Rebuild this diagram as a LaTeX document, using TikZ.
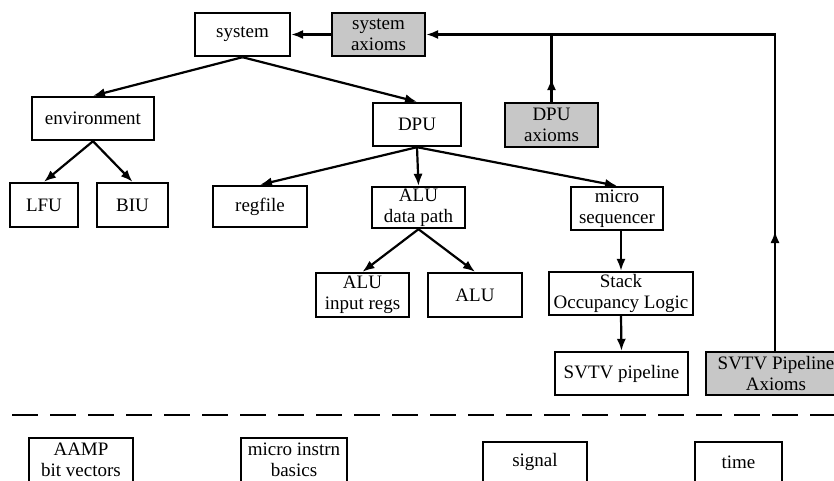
\documentclass[tikz,border=0pt]{standalone}
\usepackage{fontspec}
\setmainfont{Liberation Serif}
\usetikzlibrary{arrows.meta,decorations.markings}

\begin{document}
\begin{tikzpicture}[x=0.5pt,y=-0.5pt,
  box/.style={draw, line width=1.2pt, align=center, inner sep=0pt,
    minimum height=21.5pt, font=\fontsize{9.5}{10.5}\selectfont},
  shaded/.style={box, fill=black!22},
  link/.style={line width=1.1pt, -{Latex[length=6pt,width=4.6pt]}},
  midarrow/.style={line width=1.1pt, postaction={decorate},
    decoration={markings, mark=at position #1 with {\arrow{Latex[length=6pt,width=4.6pt]}}}},
  sep/.style={line width=1.1pt, dash pattern=on 13pt off 6pt}
]
\useasboundingbox (0,0) rectangle (834,481);
\clip (0,0) rectangle (834,481);

% module hierarchy
\node[box, minimum width=47.5pt] (system) at (242.5,34.5) {system};
\node[shaded, minimum width=46.5pt] (sysax) at (378.5,34.5) {system\\axioms};
\node[box, minimum width=61pt] (env) at (93,118.5) {environment};
\node[box, minimum width=34pt, minimum height=22pt] (lfu) at (44,205) {LFU};
\node[box, minimum width=35.5pt, minimum height=22pt] (biu) at (132.5,205) {BIU};
\node[box, minimum width=44pt] (dpu) at (417,124.5) {DPU};
\node[shaded, minimum width=46.5pt, minimum height=22pt] (dpuax) at (551.5,125) {DPU\\axioms};
\node[box, minimum width=47pt, minimum height=20.5pt] (regfile) at (260,206.5) {regfile};
\node[box, minimum width=46.5pt, minimum height=20.5pt] (alup) at (418.5,207.5) {ALU\\data path};
\node[box, minimum width=46pt] (micro) at (617,208.5) {micro\\sequencer};
\node[box, minimum width=46.5pt, minimum height=22pt] (alui) at (362.5,295) {ALU\\input regs};
\node[box, minimum width=47pt, minimum height=22pt] (alu) at (475,295) {ALU};
\node[box, minimum width=72pt] (stack) at (621,293.5) {Stack\\Occupancy Logic};
\node[box, minimum width=66.5pt] (svtv) at (621.5,373.5) {SVTV pipeline};
\node[shaded, minimum width=70pt] (svtvax) at (776,373.5) {SVTV Pipeline\\Axioms};

% basic theories below the separator
\node[box, minimum width=52pt, minimum height=22pt] (aamp) at (81,460) {AAMP\\bit vectors};
\node[box, minimum width=53pt, minimum height=22pt] (minstr) at (294,460) {micro instrn\\basics};
\node[box, minimum width=52pt, minimum height=20pt] (signal) at (535,462) {signal};
\node[box, minimum width=43.5pt, minimum height=20pt] (time) at (738.5,462) {time};

\coordinate (tr) at (775,34.5);
\coordinate (sepL) at (12,415);
\coordinate (sepR) at (840,415);

% connectors
\draw[link] (system.south) -- (env.north);
\draw[link] (system.south) -- (dpu.north);
\draw[link] (sysax.west) -- (system.east);
\draw[link] (env.south) -- (lfu.north);
\draw[link] (env.south) -- (biu.north);
\draw[link] (dpu.south) -- (regfile.north);
\draw[link] (dpu.south) -- (alup.north);
\draw[link] (dpu.south) -- (micro.north);
\draw[link] (alup.south) -- (alui.north);
\draw[link] (alup.south) -- (alu.north);
\draw[link] (stack.north |- micro.south) -- (stack.north);
\draw[link] (stack.south) -- (svtv.north);
\draw[midarrow=0.35] (dpuax.north) -- (dpuax.north |- tr);
\draw[link, midarrow=0.18, line join=miter] (svtvax.north -| tr) -- (tr) -- (sysax.east);

% separator
\draw[sep] (sepL) -- (sepR);
\end{tikzpicture}
\end{document}
